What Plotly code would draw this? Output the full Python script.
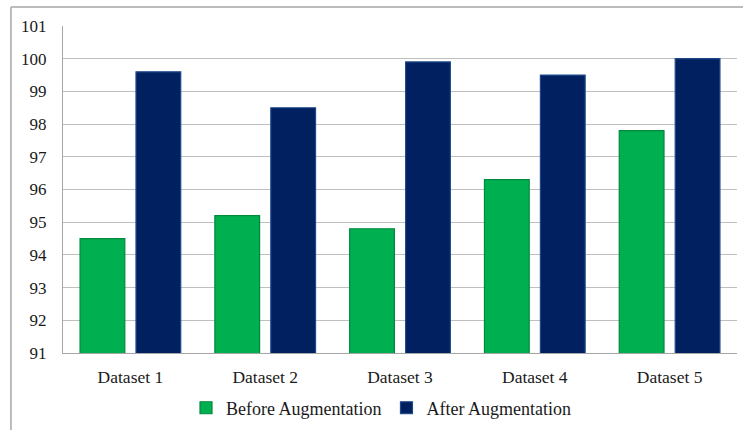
import plotly.graph_objects as go

# Accuracy (%) per dataset, before and after augmentation
datasets = ["Dataset 1", "Dataset 2", "Dataset 3", "Dataset 4", "Dataset 5"]
before_aug = [94.5, 95.2, 94.8, 96.3, 97.8]
after_aug = [99.6, 98.5, 99.9, 99.5, 100.0]
y_ticks = [91, 92, 93, 94, 95, 96, 97, 98, 99, 100, 101]

FONT = "Liberation Serif, Times New Roman, serif"
TEXT = "#1a1a1a"

fig = go.Figure()
fig.add_trace(go.Bar(
    x=datasets, y=before_aug, name="Before Augmentation",
    marker=dict(color="#00B050", line=dict(color="#00893D", width=1.2)),
))
fig.add_trace(go.Bar(
    x=datasets, y=after_aug, name="After Augmentation",
    marker=dict(color="#002060", line=dict(color="#1E4A8C", width=1.2)),
))

fig.update_layout(
    width=743, height=430,
    margin=dict(l=63, r=6, t=26, b=77, autoexpand=False),
    paper_bgcolor="white", plot_bgcolor="white",
    barmode="group", bargap=0.17, bargroupgap=0.2,
    font=dict(family=FONT, size=17, color=TEXT),
    showlegend=True,
    legend=dict(orientation="h", x=0.1825, xanchor="left",
                yref="container", y=0.051, yanchor="middle",
                font=dict(family=FONT, size=18, color=TEXT),
                itemwidth=30, traceorder="normal"),
    xaxis=dict(showgrid=False, showline=True, linecolor="#A6A6A6", linewidth=1,
               ticks="", ticklabelstandoff=8,
               tickfont=dict(family=FONT, size=17.5, color=TEXT)),
    yaxis=dict(range=[91, 101], tickvals=y_ticks, showgrid=True, gridcolor="#BFBFBF",
               gridwidth=1, showline=True, linecolor="#A6A6A6", linewidth=1,
               ticks="", ticklabelstandoff=12,
               tickfont=dict(family=FONT, size=17, color=TEXT), zeroline=False),
)

# outer chart frame
fig.add_shape(type="line", xref="paper", yref="paper",
              x0=-0.0772, x1=1.1, y0=1.058, y1=1.058,
              line=dict(color="#A6A6A6", width=1.5))
fig.add_shape(type="line", xref="paper", yref="paper",
              x0=-0.0772, x1=-0.0772, y0=1.058, y1=-0.3,
              line=dict(color="#A6A6A6", width=1.5))

fig.write_html("out.html")
